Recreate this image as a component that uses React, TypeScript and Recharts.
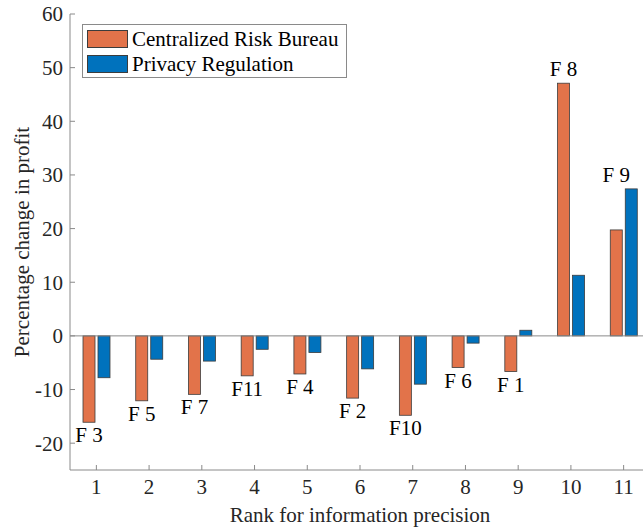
import React from "react";
import {
  BarChart,
  Bar,
  XAxis,
  YAxis,
  ReferenceLine,
  Legend,
  Label,
} from "recharts";

// Rank positions on the horizontal axis
const ranks = ["1", "2", "3", "4", "5", "6", "7", "8", "9", "10", "11"];
// Firm shown at each rank
const firmLabels = ["F 3", "F 5", "F 7", "F11", "F 4", "F 2", "F10", "F 6", "F 1", "F 8", "F 9"];
// Percentage change in profit under each policy
const centralizedRiskBureau = [-16.1, -12.1, -10.9, -7.45, -7.1, -11.6, -14.8, -5.9, -6.65, 47.1, 19.75];
const privacyRegulation = [-7.8, -4.35, -4.7, -2.5, -3.1, -6.15, -9.0, -1.35, 1.05, 11.3, 27.4];
const yTicks = [-20, -10, 0, 10, 20, 30, 40, 50, 60];

const ORANGE = "#E2734A";
const BLUE = "#0072BD";
const EDGE = "#3c3c3c";
const AXIS = "#8a8a8a";
const TEXT = "#262626";
const FONT = "'Liberation Serif', 'Times New Roman', serif";
const FS = 21;

const data = ranks.map((r, i) => ({
  rank: r,
  firm: firmLabels[i],
  crb: centralizedRiskBureau[i],
  pr: privacyRegulation[i],
}));

// Orange bar plus the firm name placed just past the end of the taller bar
const CrbShape = (props: any) => {
  const { x, y, width, height, payload } = props;
  const top = Math.min(y, y + height);
  const bot = Math.max(y, y + height);
  const v = payload.crb;
  const pxPerUnit = Math.abs(v) > 0 ? (bot - top) / Math.abs(v) : 0;
  const cx = x + width / 2;
  let ty: number;
  if (v >= 0) {
    const zero = bot;
    const peak = Math.max(payload.crb, payload.pr);
    ty = zero - peak * pxPerUnit - 14;
  } else {
    ty = bot + 13;
  }
  return (
    <g>
      <rect x={x} y={top} width={width} height={bot - top} fill={ORANGE} stroke={EDGE} strokeWidth={0.8} />
      <text
        x={cx}
        y={ty}
        textAnchor="middle"
        dominantBaseline="central"
        fontFamily={FONT}
        fontSize={FS}
        fill="#000"
      >
        {payload.firm}
      </text>
    </g>
  );
};

const PrShape = (props: any) => {
  const { x, y, width, height } = props;
  const top = Math.min(y, y + height);
  const bot = Math.max(y, y + height);
  return <rect x={x} y={top} width={width} height={bot - top} fill={BLUE} stroke={EDGE} strokeWidth={0.8} />;
};

const LegendBox = () => {
  const items = [
    { name: "Centralized Risk Bureau", color: ORANGE },
    { name: "Privacy Regulation", color: BLUE },
  ];
  return (
    <div
      style={{
        border: `1px solid ${AXIS}`,
        background: "#fff",
        width: 265,
        height: 54,
        boxSizing: "border-box",
        padding: "2px 0 0 4px",
        fontFamily: FONT,
        fontSize: FS,
        color: "#000",
      }}
    >
      {items.map((it) => (
        <div key={it.name} style={{ display: "flex", alignItems: "center", height: 24.5 }}>
          <div
            style={{
              width: 41,
              height: 18,
              background: it.color,
              border: `1px solid ${EDGE}`,
              boxSizing: "border-box",
              marginRight: 4,
            }}
          />
          <span style={{ whiteSpace: "nowrap", lineHeight: "24px" }}>{it.name}</span>
        </div>
      ))}
    </div>
  );
};

export default function App() {
  const tickStyle = { fontFamily: FONT, fontSize: FS, fill: TEXT };
  return (
    <div style={{ position: "fixed", left: 0, top: 0, width: 643, height: 529, overflow: "hidden", background: "#fff" }}>
      <BarChart
        width={660}
        height={529}
        data={data}
        margin={{ top: 14, right: 10, left: 0, bottom: 0 }}
        barSize={12}
        barGap={3}
        barCategoryGap={0}
      >
        <XAxis
          dataKey="rank"
          height={59}
          axisLine={{ stroke: AXIS }}
          tickLine={{ stroke: AXIS }}
          tickSize={-5}
          tickMargin={14}
          tick={tickStyle}
          interval={0}
        >
          <Label
            content={(p: any) => {
              const vb = p.viewBox;
              return (
                <text
                  x={vb.x + vb.width / 2}
                  y={515}
                  textAnchor="middle"
                  dominantBaseline="central"
                  fontFamily={FONT}
                  fontSize={FS}
                  fill={TEXT}
                >
                  Rank for information precision
                </text>
              );
            }}
          />
        </XAxis>
        <XAxis
          xAxisId="top"
          dataKey="rank"
          orientation="top"
          height={0}
          axisLine={{ stroke: AXIS }}
          tickLine={{ stroke: AXIS }}
          tickSize={-5}
          tickFormatter={() => ""}
          interval={0}
        />
        <YAxis
          width={70}
          domain={[-25, 60]}
          ticks={yTicks}
          allowDataOverflow
          axisLine={{ stroke: AXIS }}
          tickLine={{ stroke: AXIS }}
          tickSize={-5}
          tickMargin={12}
          tick={tickStyle}
        >
          <Label
            content={(p: any) => {
              const vb = p.viewBox;
              const cx = 22;
              const cy = vb.y + vb.height / 2;
              return (
                <text
                  x={cx}
                  y={cy}
                  transform={`rotate(-90 ${cx} ${cy})`}
                  textAnchor="middle"
                  dominantBaseline="central"
                  fontFamily={FONT}
                  fontSize={FS}
                  fill={TEXT}
                >
                  Percentage change in profit
                </text>
              );
            }}
          />
        </YAxis>
        <ReferenceLine y={0} stroke={AXIS} strokeWidth={1} />
        <Legend
          layout="horizontal"
          verticalAlign="middle"
          align="center"
          content={<LegendBox />}
          wrapperStyle={{ position: "absolute", left: 82, top: 24, width: "auto" }}
        />
        <Bar dataKey="crb" name="Centralized Risk Bureau" shape={<CrbShape />} isAnimationActive={false} />
        <Bar dataKey="pr" name="Privacy Regulation" shape={<PrShape />} isAnimationActive={false} />
      </BarChart>
    </div>
  );
}
